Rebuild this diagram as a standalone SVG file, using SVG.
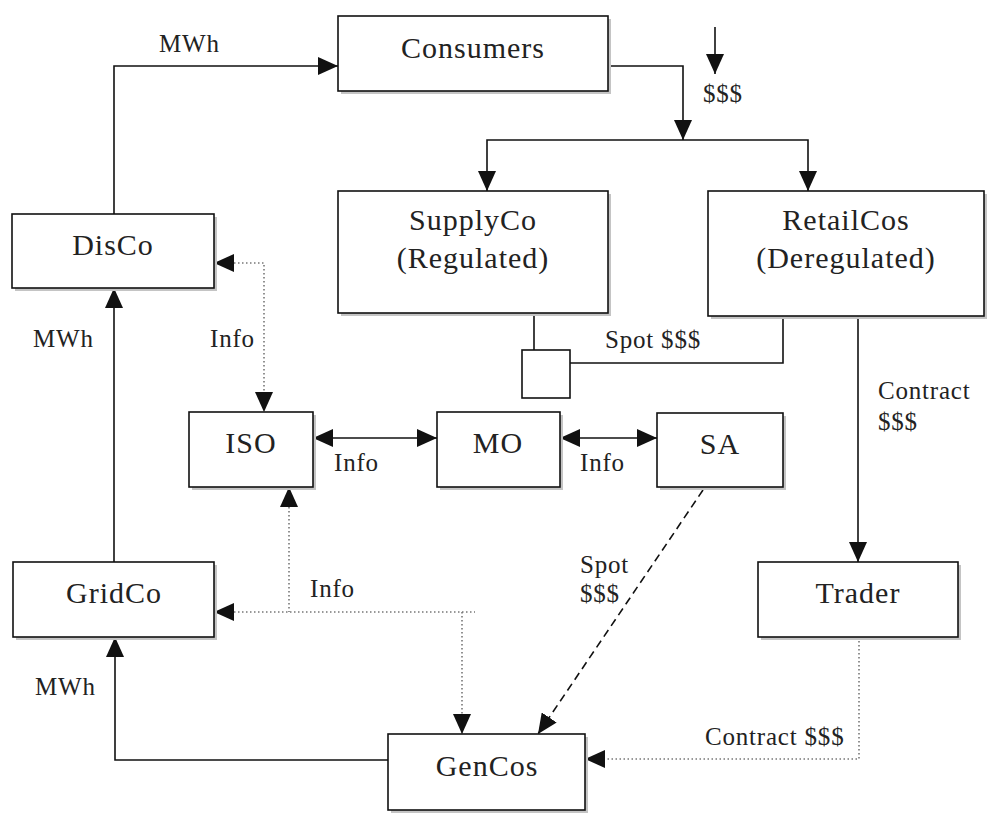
<svg xmlns="http://www.w3.org/2000/svg" width="990" height="816" viewBox="0 0 990 816">
<style>
.box{fill:#fff;stroke:#111;stroke-width:1.6}
.sh{fill:#c4c4c4}
.big{font-family:"Liberation Serif","Times New Roman",serif;font-size:30px;fill:#222;text-anchor:middle;letter-spacing:1px}
.lbl{font-family:"Liberation Serif","Times New Roman",serif;font-size:25px;fill:#222;letter-spacing:0.8px}
.ln{fill:none;stroke:#111;stroke-width:1.6}
.dot{fill:none;stroke:#777;stroke-width:1.6;stroke-dasharray:1.5 2.5}
.dash{fill:none;stroke:#111;stroke-width:1.6;stroke-dasharray:8 5}
</style>
<defs>
<marker id="ah" markerUnits="userSpaceOnUse" markerWidth="20" markerHeight="18" refX="20" refY="9" orient="auto-start-reverse">
<path d="M0,0 L20,9 L0,18 z" fill="#111"/>
</marker>
</defs>
<rect width="990" height="816" fill="#fff"/>
<g id="connectors">
<path class="ln" d="M114,214 V66 H338" marker-end="url(#ah)"/>
<path class="ln" d="M608,66 H683 V140" marker-end="url(#ah)"/>
<path class="ln" d="M487,191 V140 H808 V191" marker-start="url(#ah)" marker-end="url(#ah)"/>
<path class="ln" d="M715,27 V74" marker-end="url(#ah)"/>
<path class="ln" d="M114,562 V288" marker-end="url(#ah)"/>
<path class="ln" d="M388,760 H115 V637" marker-end="url(#ah)"/>
<path class="ln" d="M534,313 V350"/>
<path class="ln" d="M570,363 H783 V316"/>
<path class="ln" d="M858,316 V562" marker-end="url(#ah)"/>
<path class="ln" d="M313,438 H437" marker-start="url(#ah)" marker-end="url(#ah)"/>
<path class="ln" d="M560,438 H657" marker-start="url(#ah)" marker-end="url(#ah)"/>
<path class="dot" d="M214,263 H264 V412" marker-start="url(#ah)" marker-end="url(#ah)"/>
<path class="dot" d="M289,487 V612" marker-start="url(#ah)"/>
<path class="dot" d="M214,612 H462 V734" marker-start="url(#ah)" marker-end="url(#ah)"/>
<path class="dot" d="M462,612 H475"/>
<path class="dot" d="M859,637 V759 H585" marker-end="url(#ah)"/>
<path class="dash" d="M703,490 L538,734" marker-end="url(#ah)"/>
<text class="lbl" x="159" y="52">MWh</text>
<text class="lbl" x="703" y="102">$$$</text>
<text class="lbl" x="210" y="347">Info</text>
<text class="lbl" x="33" y="347">MWh</text>
<text class="lbl" x="605" y="348">Spot $$$</text>
<text class="lbl" x="878" y="399">Contract</text>
<text class="lbl" x="878" y="430">$$$</text>
<text class="lbl" x="334" y="471">Info</text>
<text class="lbl" x="580" y="471">Info</text>
<text class="lbl" x="310" y="597">Info</text>
<text class="lbl" x="580" y="573">Spot</text>
<text class="lbl" x="580" y="602">$$$</text>
<text class="lbl" x="35" y="695">MWh</text>
<text class="lbl" x="705" y="745">Contract $$$</text>
</g>
<g id="consumers">
<rect class="sh" x="341" y="19" width="270" height="75"/>
<rect class="box" x="338" y="16" width="270" height="75"/>
<text class="big" x="473" y="58">Consumers</text>
</g>
<g id="supplyco">
<rect class="sh" x="341" y="194" width="270" height="122"/>
<rect class="box" x="338" y="191" width="270" height="122"/>
<text class="big" x="473" y="230">SupplyCo</text>
<text class="big" x="473" y="268">(Regulated)</text>
</g>
<g id="retailcos">
<rect class="sh" x="711" y="194" width="276" height="125"/>
<rect class="box" x="708" y="191" width="276" height="125"/>
<text class="big" x="846" y="230">RetailCos</text>
<text class="big" x="846" y="268">(Deregulated)</text>
</g>
<g id="disco">
<rect class="sh" x="15" y="217" width="202" height="74"/>
<rect class="box" x="12" y="214" width="202" height="74"/>
<text class="big" x="113" y="255">DisCo</text>
</g>
<g id="junction">
<rect class="box" x="522" y="350" width="48" height="48"/>
</g>
<g id="iso">
<rect class="sh" x="192" y="415" width="124" height="75"/>
<rect class="box" x="189" y="412" width="124" height="75"/>
<text class="big" x="251" y="453">ISO</text>
</g>
<g id="mo">
<rect class="sh" x="440" y="415" width="123" height="75"/>
<rect class="box" x="437" y="412" width="123" height="75"/>
<text class="big" x="498" y="453">MO</text>
</g>
<g id="sa">
<rect class="sh" x="660" y="416" width="126" height="74"/>
<rect class="box" x="657" y="413" width="126" height="74"/>
<text class="big" x="720" y="454">SA</text>
</g>
<g id="gridco">
<rect class="sh" x="16" y="565" width="201" height="75"/>
<rect class="box" x="13" y="562" width="201" height="75"/>
<text class="big" x="114" y="603">GridCo</text>
</g>
<g id="trader">
<rect class="sh" x="761" y="565" width="200" height="75"/>
<rect class="box" x="758" y="562" width="200" height="75"/>
<text class="big" x="858" y="603">Trader</text>
</g>
<g id="gencos">
<rect class="sh" x="391" y="737" width="197" height="76"/>
<rect class="box" x="388" y="734" width="197" height="76"/>
<text class="big" x="487" y="776">GenCos</text>
</g>
</svg>
